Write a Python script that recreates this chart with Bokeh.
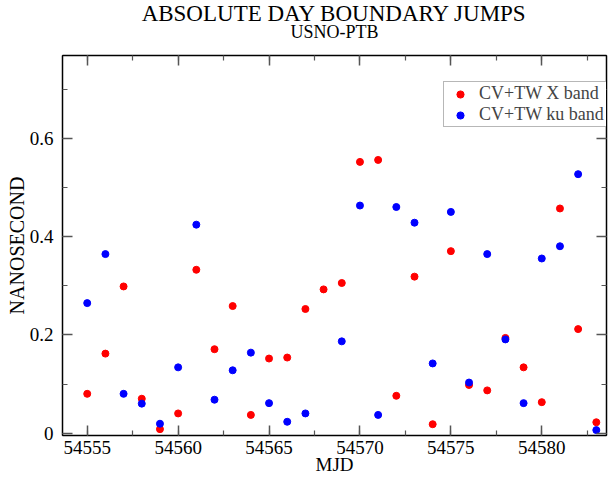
from bokeh.plotting import figure
from bokeh.models import (ColumnDataSource, LinearAxis, SingleIntervalTicker, Range1d,
                          Title, Legend, LegendItem)
from bokeh.embed import file_html
from bokeh.resources import INLINE

# ---- data ----
mjd_x = [54555, 54556, 54557, 54558, 54559, 54560, 54561, 54562, 54563, 54564,
         54565, 54566, 54567, 54568, 54569, 54570, 54571, 54572, 54573, 54574,
         54575, 54576, 54577, 54578, 54579, 54580, 54581, 54582, 54583]
x_band = [0.080, 0.162, 0.299, 0.070, 0.008, 0.040, 0.333, 0.171, 0.259, 0.037,
          0.152, 0.154, 0.253, 0.293, 0.306, 0.553, 0.557, 0.076, 0.319, 0.018,
          0.371, 0.098, 0.087, 0.194, 0.134, 0.063, 0.458, 0.212, 0.022]

mjd_ku = [54555, 54556, 54557, 54558, 54559, 54560, 54561, 54562, 54563, 54564,
          54565, 54566, 54567, 54569, 54570, 54571, 54572, 54573, 54574,
          54575, 54576, 54577, 54578, 54579, 54580, 54581, 54582, 54583]
ku_band = [0.265, 0.365, 0.080, 0.060, 0.019, 0.134, 0.425, 0.068, 0.128, 0.164,
           0.061, 0.023, 0.040, 0.187, 0.464, 0.037, 0.461, 0.429, 0.142,
           0.451, 0.103, 0.365, 0.191, 0.061, 0.356, 0.381, 0.528, 0.006]

series_labels = ["CV+TW X band", "CV+TW ku band"]
title_text = "ABSOLUTE DAY BOUNDARY JUMPS"
subtitle_text = "USNO-PTB"
x_label = "MJD"
y_label = "NANOSECOND"

FONT = "Liberation Serif"

src_x = ColumnDataSource(dict(x=mjd_x, y=x_band))
src_ku = ColumnDataSource(dict(x=mjd_ku, y=ku_band))

p = figure(width=615, height=478, output_backend="svg", toolbar_location=None,
           x_range=Range1d(54553.64, 54583.56), y_range=Range1d(-0.005, 0.77),
           x_axis_type=None, y_axis_type=None, title=None,
           min_border_left=62, min_border_right=9, min_border_top=55, min_border_bottom=43)
p.grid.visible = False
p.outline_line_color = "black"
p.outline_line_width = 1
p.background_fill_color = "white"
p.border_fill_color = "white"

xt = SingleIntervalTicker(interval=5, num_minor_ticks=2)
yt = SingleIntervalTicker(interval=0.2, num_minor_ticks=2)


def style_axis(ax, show_labels):
    ax.axis_line_color = "black"
    ax.axis_line_width = 1.5
    ax.major_tick_line_color = "#555555"
    ax.minor_tick_line_color = "#555555"
    ax.major_tick_line_width = 1.5
    ax.minor_tick_line_width = 1.2
    ax.major_tick_in = 10
    ax.major_tick_out = 0
    ax.minor_tick_in = 5
    ax.minor_tick_out = 0
    ax.axis_label_text_font = FONT
    ax.axis_label_text_font_style = "normal"
    ax.axis_label_text_color = "black"
    if show_labels:
        ax.major_label_text_font = FONT
        ax.major_label_text_font_size = "19px"
        ax.major_label_text_color = "black"
    else:
        # mirror axis: ticks only, tick labels not drawn
        ax.major_label_text_font_size = "8px"
        ax.major_label_text_color = None
        ax.major_label_standoff = 0


xb = LinearAxis(ticker=xt, axis_label=x_label)
style_axis(xb, True)
xb.axis_label_text_font_size = "19px"
xb.major_label_standoff = 5
xb.axis_label_standoff = -3

yl = LinearAxis(ticker=yt, axis_label=y_label)
style_axis(yl, True)
yl.axis_label_text_font_size = "20px"
yl.major_label_standoff = 9
yl.axis_label_standoff = -1
yl.major_label_overrides = {0: "0"}

# top mirror axis carries the subtitle as its axis label
xtop = LinearAxis(ticker=xt, axis_label=subtitle_text)
style_axis(xtop, False)
xtop.axis_label_text_font_size = "18px"
xtop.axis_label_standoff = 14

yr = LinearAxis(ticker=yt)
style_axis(yr, False)

p.add_layout(xb, "below")
p.add_layout(yl, "left")
p.add_layout(xtop, "above")
p.add_layout(yr, "right")

main = Title(text=title_text, align="center", text_font=FONT, text_font_size="23px",
             text_font_style="normal", text_color="black", standoff=-14)
p.add_layout(main, "above")

r1 = p.scatter("x", "y", source=src_x, size=7, fill_color="red", line_color="red")
r2 = p.scatter("x", "y", source=src_ku, size=7, fill_color="blue", line_color="blue")

legend = Legend(items=[LegendItem(label=series_labels[0], renderers=[r1]),
                       LegendItem(label=series_labels[1], renderers=[r2])],
                location=(381, 308), margin=0, padding=1, spacing=0,
                glyph_width=30, glyph_height=18, label_height=18, label_width=140,
                label_standoff=4,
                label_text_font=FONT, label_text_font_size="18px",
                border_line_color="#707070", border_line_width=1.5,
                background_fill_color="white", background_fill_alpha=1.0)
p.add_layout(legend)

open("out.html", "w").write(file_html(p, INLINE))
